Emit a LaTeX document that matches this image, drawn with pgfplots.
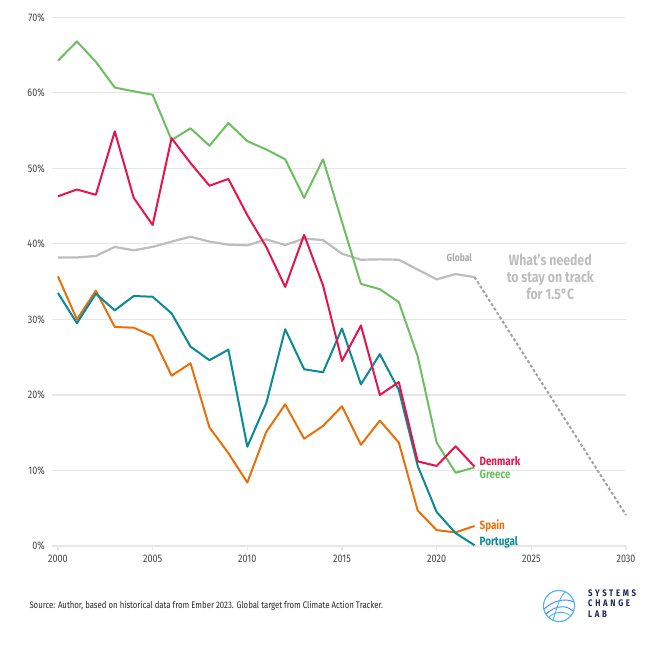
\documentclass[border=0pt]{standalone}
\usepackage{pgfplots}
\pgfplotsset{compat=1.18}
\usepackage{pgfplotstable}
\usepackage{fontspec}
\setmainfont{Fira Sans}[FakeStretch=0.82]
\definecolor{greece}{HTML}{6CBF5F}
\definecolor{denmark}{HTML}{E5144B}
\definecolor{globalc}{HTML}{BDBDBD}
\definecolor{spain}{HTML}{E8700A}
\definecolor{portugal}{HTML}{0A8A96}
\definecolor{gridc}{HTML}{E6E6E6}
\definecolor{ticktext}{HTML}{444444}
\definecolor{navy}{HTML}{1B2556}
\definecolor{logob}{HTML}{4FB0F0}

\pgfplotstableread{
year greece denmark global spain portugal
2000 64.25 46.3 38.2 35.7 33.5
2001 66.8 47.2 38.2 30.0 29.5
2002 64.1 46.5 38.4 33.8 33.4
2003 60.7 54.9 39.6 29.0 31.2
2004 60.2 46.1 39.15 28.9 33.1
2005 59.75 42.5 39.6 27.8 33.0
2006 53.75 54.0 40.3 22.55 30.8
2007 55.3 50.7 40.95 24.2 26.4
2008 53.0 47.7 40.3 15.7 24.6
2009 56.0 48.6 39.9 12.3 26.0
2010 53.6 43.8 39.8 8.4 13.15
2011 52.5 39.6 40.6 15.1 18.9
2012 51.2 34.3 39.85 18.75 28.7
2013 46.1 41.2 40.7 14.2 23.4
2014 51.2 34.5 40.5 15.9 23.0
2015 42.9 24.5 38.7 18.5 28.8
2016 34.7 29.2 37.9 13.4 21.4
2017 34.0 20.0 37.95 16.6 25.4
2018 32.3 21.7 37.9 13.7 20.65
2019 25.1 11.2 36.6 4.7 10.6
2020 13.7 10.6 35.3 2.1 4.5
2021 9.7 13.2 36.0 1.8 1.7
2022 10.4 10.5 35.6 2.65 0.1
}\data

\begin{document}
\begin{tikzpicture}
\path[use as bounding box] (0,0) rectangle (664bp,645bp);
\begin{axis}[
  at={(52.3bp,99bp)}, anchor=south west,
  scale only axis, width=573.7bp, height=528.7bp,
  xmin=1999.7, xmax=2030, ymin=0, ymax=70,
  axis line style={draw=none},
  xtick={2000,2005,...,2030},
  ytick={0,10,...,70},
  xtick pos=bottom, tick align=outside,
  major tick length=4bp,
  xtick style={draw=gridc, line width=1.2bp},
  ytick style={draw=none},
  ymajorgrids, grid style={draw=gridc, line width=1.2bp},
  /pgf/number format/assume math mode=true,
  /pgf/number format/1000 sep={},
  tick label style={font=\fontsize{11bp}{13bp}\selectfont, text=ticktext},
  xticklabel style={yshift=-1.5bp},
  yticklabel={\pgfmathprintnumber{\tick}\%},
  clip=false,
]
\addplot[globalc, line width=2.2bp, line join=round] table[x=year,y=global]{\data};
\addplot[globalc!85!black, line width=2bp, dash pattern=on 3bp off 2.2bp] coordinates {(2022,35.6) (2030,4.1)};
\addplot[greece, line width=2bp, line join=round] table[x=year,y=greece]{\data};
\addplot[spain, line width=2bp, line join=round] table[x=year,y=spain]{\data};
\addplot[portugal, line width=2bp, line join=round] table[x=year,y=portugal]{\data};
\addplot[denmark, line width=2bp, line join=round] table[x=year,y=denmark]{\data};

\node[text=globalc!90!black, font=\fontsize{10.5bp}{12bp}\selectfont\bfseries] at (axis cs:2021.2,38.2) {Global};
\node[text=globalc, font=\fontsize{15bp}{17bp}\selectfont\bfseries, align=center] at (axis cs:2026,35.6) {What's needed\\to stay on track\\for 1.5°C};
\node[anchor=west, inner sep=0pt, text=denmark, font=\fontsize{12bp}{14bp}\selectfont\bfseries] at (axis cs:2022.26,11.3) {Denmark};
\node[anchor=west, inner sep=0pt, text=greece, font=\fontsize{12bp}{14bp}\selectfont\bfseries] at (axis cs:2022.26,9.5) {Greece};
\node[anchor=west, inner sep=0pt, text=spain, font=\fontsize{12bp}{14bp}\selectfont\bfseries] at (axis cs:2022.26,2.7) {Spain};
\node[anchor=west, inner sep=0pt, text=portugal, font=\fontsize{12bp}{14bp}\selectfont\bfseries] at (axis cs:2022.26,0.45) {Portugal};
\end{axis}
\node[anchor=west, inner sep=0pt, text=black!85, font=\fontsize{9.5bp}{12bp}\selectfont] at (29.3bp,39bp) {Source: Author, based on historical data from Ember 2023. Global target from Climate Action Tracker.};
% logo
\begin{scope}[shift={(559bp,39bp)}]
\draw[logob, line width=1.1bp] (0,0) circle (15.5bp);
\draw[logob!80!blue, line width=0.9bp] (-15bp,-3bp) .. controls (-5bp,6bp) and (6bp,8bp) .. (15bp,4bp);
\draw[logob!80!blue, line width=0.9bp] (-13bp,-8bp) .. controls (-4bp,0bp) and (6bp,2bp) .. (14bp,-5bp);
\draw[logob, line width=0.9bp] (-6bp,-14bp) .. controls (-2bp,-2bp) and (0bp,8bp) .. (6bp,14bp);
\draw[logob, line width=0.9bp] (-10bp,-11bp) .. controls (-4bp,-6bp) and (4bp,-4bp) .. (12bp,-10bp);
\end{scope}
\node[anchor=north west, inner sep=0pt, text=navy, font=\fontsize{9.5bp}{10bp}\selectfont\bfseries, align=left] at (588bp,55.5bp) {\addfontfeatures{LetterSpace=28}SYSTEMS\\[0.5bp]\addfontfeatures{LetterSpace=28}CHANGE\\[0.5bp]\addfontfeatures{LetterSpace=28}LAB};
\end{tikzpicture}
\end{document}
